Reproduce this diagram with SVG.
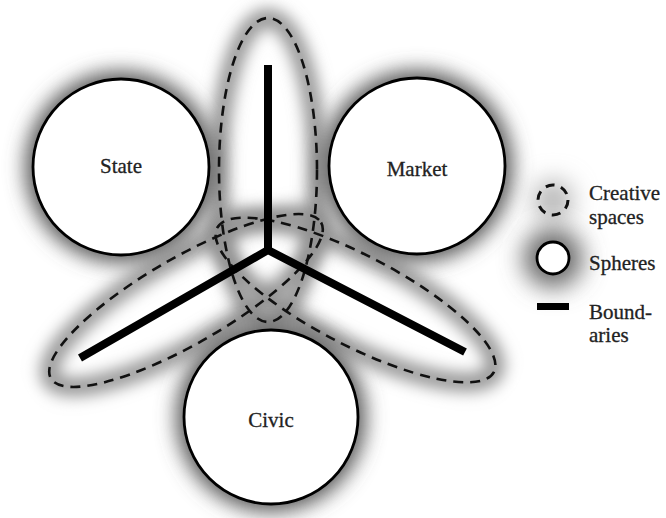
<svg xmlns="http://www.w3.org/2000/svg" width="666" height="518" viewBox="0 0 666 518">
  <defs>
    <filter id="blurC" x="-50%" y="-50%" width="200%" height="200%">
      <feGaussianBlur stdDeviation="10"/>
    </filter>
    <filter id="blurE" x="-40%" y="-40%" width="180%" height="180%">
      <feGaussianBlur stdDeviation="8"/>
    </filter>
    <filter id="blurL" x="-100%" y="-100%" width="300%" height="300%">
      <feGaussianBlur stdDeviation="12"/>
    </filter>
  </defs>
  <style>
    .halo { fill: #5a5a5a; filter: url(#blurC); }
    .ehalo { fill: none; stroke: #909090; stroke-width: 18; filter: url(#blurE); }
    .sphere { fill: #ffffff; stroke: #000000; stroke-width: 2.8; }
    .space { fill: none; stroke: #111111; stroke-width: 2.6; stroke-dasharray: 10 7; }
    .lbl { font-family: "Liberation Serif", "DejaVu Serif", serif; font-size: 21px; fill: #222222; stroke: #222222; stroke-width: 0.3; }
    .bound { fill: none; stroke: #000000; stroke-width: 8; stroke-linejoin: miter; }
  </style>
  <rect width="666" height="518" fill="#ffffff"/>

  <!-- halos -->
  <g id="halos">
    <ellipse class="ehalo" cx="268" cy="170" rx="49" ry="152"/>
    <ellipse class="ehalo" transform="translate(186,300.5) rotate(-30)" cx="0" cy="0" rx="156" ry="43"/>
    <ellipse class="ehalo" transform="translate(355.5,300) rotate(27.5)" cx="0" cy="0" rx="156" ry="45"/>
    <circle class="halo" cx="121" cy="167" r="96"/>
    <circle class="halo" cx="417" cy="166" r="96"/>
    <circle class="halo" cx="271" cy="417" r="95"/>
    <circle cx="553" cy="200" r="20" fill="#b4b4b4" filter="url(#blurL)"/>
    <circle cx="553" cy="258" r="30" fill="#6a6a6a" filter="url(#blurL)"/>
  </g>

  <!-- spheres -->
  <g id="state">
    <circle class="sphere" cx="121" cy="167" r="88"/>
    <text class="lbl" x="121" y="173" text-anchor="middle">State</text>
  </g>
  <g id="market">
    <circle class="sphere" cx="417" cy="166" r="88"/>
    <text class="lbl" x="417" y="176" text-anchor="middle">Market</text>
  </g>
  <g id="civic">
    <circle class="sphere" cx="271" cy="417" r="87"/>
    <text class="lbl" x="271" y="427" text-anchor="middle">Civic</text>
  </g>

  <!-- creative spaces -->
  <g id="space-vertical">
    <ellipse class="space" cx="268" cy="170" rx="49" ry="152"/>
  </g>
  <g id="space-left">
    <ellipse class="space" transform="translate(186,300.5) rotate(-30)" cx="0" cy="0" rx="156" ry="43"/>
  </g>
  <g id="space-right">
    <ellipse class="space" transform="translate(355.5,300) rotate(27.5)" cx="0" cy="0" rx="156" ry="45"/>
  </g>

  <!-- boundaries -->
  <g id="boundaries">
    <path class="bound" d="M80,358 L268,250 L465,352"/>
    <path class="bound" d="M268,250 V65"/>
  </g>

  <!-- legend -->
  <g id="legend">
    <circle cx="553" cy="200" r="15" fill="none" stroke="#111" stroke-width="3" stroke-dasharray="9 6.7"/>
    <text class="lbl" x="589" y="200">Creative</text>
    <text class="lbl" x="589" y="224">spaces</text>
    <circle class="sphere" cx="553" cy="258" r="16" stroke-width="3"/>
    <text class="lbl" x="589" y="270">Spheres</text>
    <rect x="537" y="303" width="32" height="7" fill="#000"/>
    <text class="lbl" x="589" y="319">Bound-</text>
    <text class="lbl" x="589" y="342">aries</text>
  </g>
</svg>
